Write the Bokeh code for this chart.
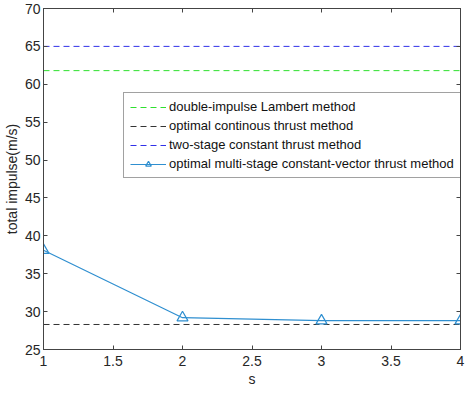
from bokeh.plotting import figure
from bokeh.models import Range1d, LinearAxis, Legend, LegendItem, FixedTicker
from bokeh.embed import file_html
from bokeh.resources import INLINE

# data
s_vals = [1, 2, 3, 4]
multi_stage = [38.1, 29.2, 28.8, 28.8]
lambert_val = 61.8
continuous_val = 28.3
two_stage_val = 65.0
x_ticks = [1, 1.5, 2, 2.5, 3, 3.5, 4]
y_ticks = [25, 30, 35, 40, 45, 50, 55, 60, 65, 70]

FONT = "Liberation Sans"
TXT = "#262626"

p = figure(width=466, height=389, output_backend="svg", toolbar_location=None,
           x_range=Range1d(1, 4), y_range=Range1d(25, 70),
           min_border_left=33, min_border_right=6, min_border_top=8, min_border_bottom=40)
p.grid.visible = False
p.outline_line_color = "#444444"

xs_full = [s_vals[0], s_vals[-1]]
r_lam = p.line(xs_full, [lambert_val] * 2, line_color="#2ee02e", line_dash="6 4", line_width=1)
r_con = p.line(xs_full, [continuous_val] * 2, line_color="#333333", line_dash="6 4", line_width=1)
r_two = p.line(xs_full, [two_stage_val] * 2, line_color="#3030e8", line_dash="6 4", line_width=1)
r_ms_l = p.line(s_vals, multi_stage, line_color="#2f8fd0", line_width=1.2)
r_ms_m = p.scatter(s_vals, multi_stage, marker="triangle", size=11, fill_color=None,
                   line_color="#2f8fd0", line_width=1.2)

top_ax = LinearAxis()
right_ax = LinearAxis()
p.add_layout(top_ax, "above")
p.add_layout(right_ax, "right")
bottom_ax = p.below[0]
left_ax = p.left[0]

def style_axis(ax, ticks, labels=True):
    ax.ticker = FixedTicker(ticks=ticks)
    ax.major_tick_in = 4
    ax.major_tick_out = 0
    ax.minor_tick_line_color = None
    ax.axis_line_color = "#444444"
    ax.major_tick_line_color = "#444444"
    ax.major_label_text_font = FONT
    ax.major_label_text_font_size = "14px"
    ax.major_label_text_color = TXT
    ax.axis_label_text_font = FONT
    ax.axis_label_text_font_size = "14px"
    ax.axis_label_text_font_style = "normal"
    ax.axis_label_text_color = TXT
    ax.major_label_standoff = 5
    if not labels:
        ax.major_label_text_alpha = 0
        ax.major_label_text_font_size = "0px"
        ax.major_label_standoff = 0

style_axis(bottom_ax, x_ticks)
style_axis(left_ax, y_ticks)
style_axis(top_ax, x_ticks, labels=False)
style_axis(right_ax, y_ticks, labels=False)
bottom_ax.axis_label = "s"
left_ax.axis_label = "total impulse(m/s)"
left_ax.axis_label_standoff = 2
left_ax.major_label_standoff = 3
bottom_ax.major_label_standoff = 6
bottom_ax.axis_label_standoff = 2

legend = Legend(items=[
    LegendItem(label="double-impulse Lambert method", renderers=[r_lam]),
    LegendItem(label="optimal continous thrust method", renderers=[r_con]),
    LegendItem(label="two-stage constant thrust method", renderers=[r_two]),
    LegendItem(label="optimal multi-stage constant-vector thrust method", renderers=[r_ms_l, r_ms_m]),
], location=(80, 171))
legend.label_text_font = FONT
legend.label_text_font_size = "13px"
legend.label_text_color = "#111111"
legend.glyph_width = 36
legend.glyph_height = 14
legend.label_height = 14
legend.spacing = 4
legend.padding = 6
legend.margin = 0
legend.label_standoff = 3
legend.border_line_color = "#444444"
legend.background_fill_color = "white"
legend.background_fill_alpha = 1
p.add_layout(legend, "center")

open("out.html", "w").write(file_html(p, INLINE))
